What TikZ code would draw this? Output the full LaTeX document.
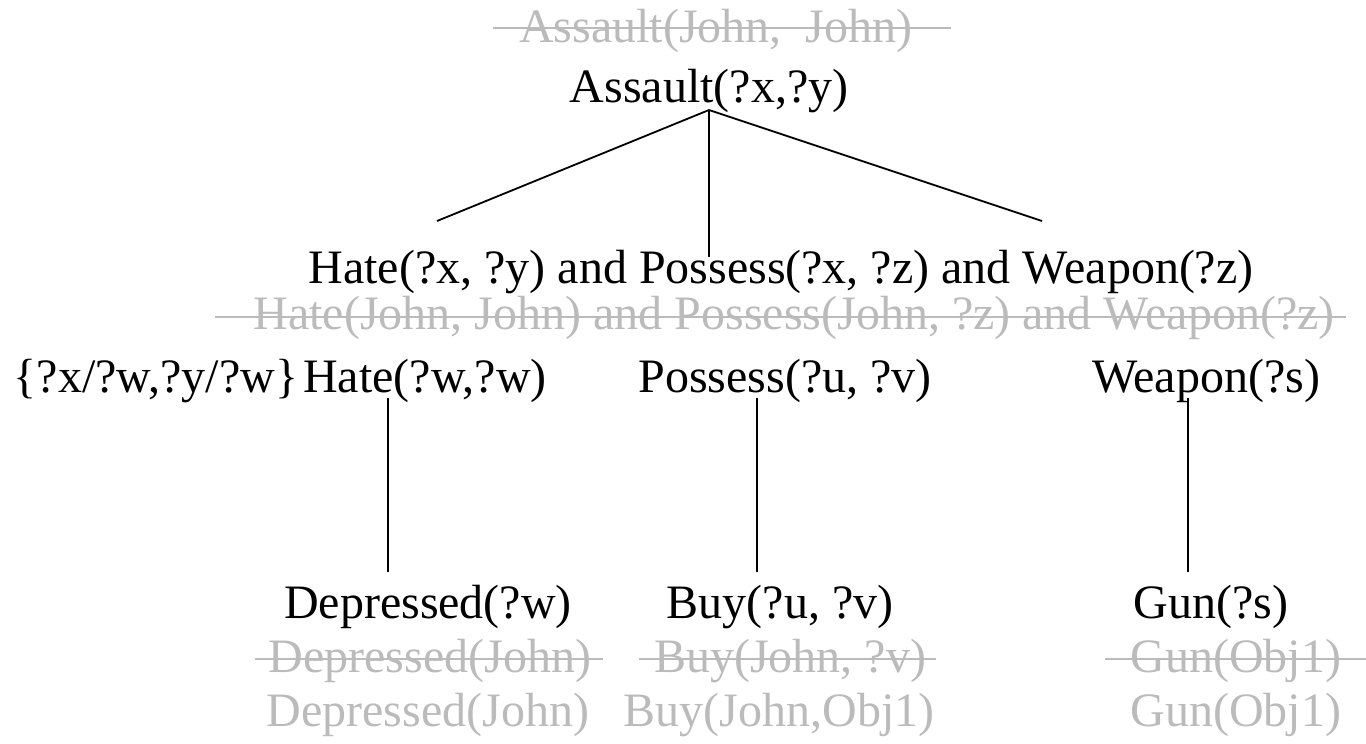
\documentclass[tikz,border=0pt]{standalone}
\usepackage{fontspec}
\setmainfont{Liberation Serif}
\definecolor{ghostgray}{RGB}{187,187,187}
\begin{document}
\begin{tikzpicture}[x=1pt,y=-1pt,
  lbl/.style={anchor=base, inner sep=0pt, font=\fontsize{48}{58}\selectfont},
  ghost/.style={lbl, text=ghostgray},
  edge/.style={line width=1.8pt},
  strike/.style={draw=ghostgray, line width=2.2pt}]
\useasboundingbox (0,0) rectangle (1366,744);

% goal and its first binding
\node[ghost] (g0) at (716,42) {Assault(John,\ \ John)};
\node[lbl] (a) at (709,102) {Assault(?x,?y)};

% rule body
\node[lbl] (h) at (781,283) {Hate(?x, ?y) and Possess(?x, ?z) and Weapon(?z)};
\node[ghost] (gh) at (794,329) {Hate(John, John) and Possess(John, ?z) and Weapon(?z)};

% sub-goals
\node[lbl] (sub) at (156,392) {\{?x/?w,?y/?w\}};
\node[lbl] (hw) at (425,392) {Hate(?w,?w)};
\node[lbl] (pu) at (785,392) {Possess(?u, ?v)};
\node[lbl] (ws) at (1206,392) {Weapon(?s)};

% facts
\node[lbl] (dw) at (428,618) {Depressed(?w)};
\node[lbl] (bu) at (780,618) {Buy(?u, ?v)};
\node[lbl] (gs) at (1211,618) {Gun(?s)};

\node[ghost] (dj1) at (430,672) {Depressed(John)};
\node[ghost] (bj1) at (790,672) {Buy(John, ?v)};
\node[ghost] (gj1) at (1236,672) {Gun(Obj1)};

\node[ghost] (dj2) at (428,726) {Depressed(John)};
\node[ghost] (bj2) at (779,726) {Buy(John,Obj1)};
\node[ghost] (gj2) at (1236,726) {Gun(Obj1)};

% strike-through rules over discarded bindings
\draw[strike] ([shift={(-26pt,14pt)}]g0.base west) -- ([shift={(38pt,14pt)}]g0.base east);
\draw[strike] ([shift={(-38pt,12pt)}]gh.base west) -- ([shift={(11pt,12pt)}]gh.base east);
\draw[strike] ([shift={(-14pt,13pt)}]dj1.base west) -- ([shift={(12pt,13pt)}]dj1.base east);
\draw[strike] ([shift={(-15pt,13pt)}]bj1.base west) -- ([shift={(10pt,13pt)}]bj1.base east);
\draw[strike] ([shift={(-25pt,13pt)}]gj1.base west) -- ([shift={(28pt,13pt)}]gj1.base east);

% tree edges
\coordinate (apex) at (709,110);
\coordinate (hl) at (437,221);
\coordinate (hm) at (709,257);
\coordinate (hr) at (1042,221);
\draw[edge] (apex) -- (hl);
\draw[edge] (apex) -- (hm);
\draw[edge] (apex) -- (hr);

\draw[edge] ([shift={(-37pt,-6pt)}]hw.base) -- ([shift={(-40pt,46pt)}]dw.base);
\draw[edge] ([shift={(-28pt,-6pt)}]pu.base) -- ([shift={(-23pt,46pt)}]bu.base);
\draw[edge] ([shift={(-18pt,-6pt)}]ws.base) -- ([shift={(-23pt,46pt)}]gs.base);
\end{tikzpicture}
\end{document}
